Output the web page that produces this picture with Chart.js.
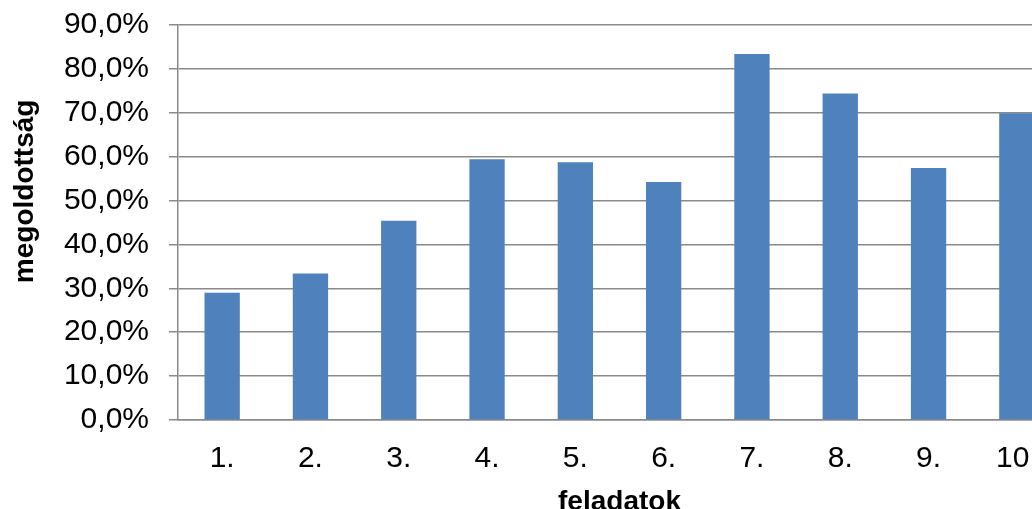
<!DOCTYPE html>
<html>
<head>
<meta charset="utf-8">
<script src="https://cdn.jsdelivr.net/npm/chart.js@4/dist/chart.umd.min.js"></script>
<style>
  html, body { margin: 0; padding: 0; background: #fff; overflow: hidden; }
  #wrap { width: 1032px; height: 509px; overflow: hidden; }
  /* y tick padding also pads the top of the plot, so pull the canvas up */
  #chart { display: block; margin-top: -13px; }
</style>
</head>
<body>
<div id="wrap">
  <canvas id="chart" width="1061" height="533"></canvas>
</div>
<script>
// feladatok (categories) and megoldottság values in %
const labels = ['1.', '2.', '3.', '4.', '5.', '6.', '7.', '8.', '9.', '10.'];
const values = [29.0, 33.4, 45.4, 59.4, 58.7, 54.2, 83.4, 74.4, 57.4, 69.9];
const yMax = 90;
const yStep = 10;

const gridColor = '#8a8a8a';
const fontFamily = 'Liberation Sans, Arial, sans-serif';

new Chart(document.getElementById('chart'), {
  type: 'bar',
  data: {
    labels: labels,
    datasets: [{
      data: values,
      backgroundColor: '#4f81bd',
      borderWidth: 0,
      barPercentage: 0.4,
      categoryPercentage: 1
    }]
  },
  options: {
    responsive: false,
    animation: false,
    devicePixelRatio: 1,
    layout: { padding: 0 },
    plugins: {
      legend: { display: false },
      tooltip: { enabled: false }
    },
    scales: {
      x: {
        offset: true,
        grid: { display: false, drawTicks: false },
        border: { display: true, color: gridColor, width: 1.5 },
        ticks: {
          color: '#000',
          padding: 21,
          font: { family: fontFamily, size: 30 },
          maxRotation: 0
        },
        title: {
          display: true,
          text: 'feladatok',
          color: '#000',
          font: { family: fontFamily, size: 28, weight: 'bold' },
          padding: { top: 0, bottom: 1 }
        },
        afterFit: (scale) => { scale.height = 100; }
      },
      y: {
        min: 0,
        max: yMax,
        grid: { color: gridColor, lineWidth: 1.5, tickLength: 9, drawTicks: true },
        border: { display: true, color: gridColor, width: 1.5 },
        ticks: {
          stepSize: yStep,
          color: '#000',
          padding: 20,
          font: { family: fontFamily, size: 30 },
          callback: (v) => v.toFixed(1).replace('.', ',') + '%'
        },
        title: {
          display: true,
          // leading spaces push the rotated title upward, as in the original
          text: '        megoldottság',
          color: '#000',
          font: { family: fontFamily, size: 28, weight: 'bold' },
          padding: { top: 8, bottom: 0 }
        },
        afterFit: (scale) => { scale.width = 178; }
      }
    }
  }
});
</script>
</body>
</html>
